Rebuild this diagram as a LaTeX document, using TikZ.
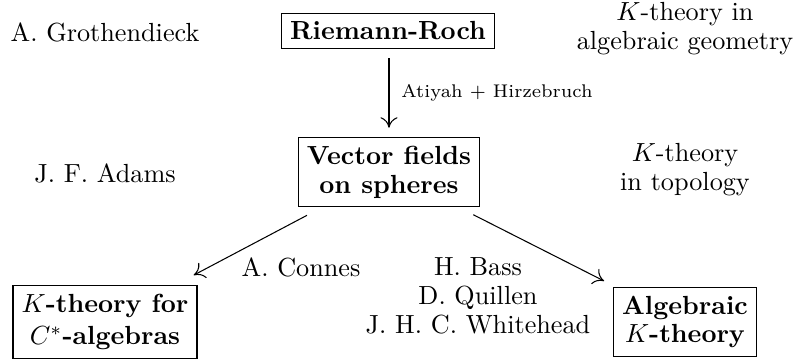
\documentclass[tikz,border=0pt]{standalone}
\usetikzlibrary{arrows.meta}
\begin{document}
\begin{tikzpicture}[x=0.3817pt,y=-0.3817pt,
  box/.style={draw, line width=0.4pt, align=center, font=\fontsize{10}{11}\selectfont\bfseries, inner sep=3.33pt},
  note/.style={align=center, inner sep=0pt, font=\fontsize{10}{11}\selectfont},
  link/.style={-{To[length=4pt,width=6.5pt]}, line width=0.4pt},
  lab/.style={font=\scriptsize}]
\useasboundingbox (0,0) rectangle (796,358);

% main topics
\node[box] (rr) at (388,31)  {Riemann-Roch};
\node[box] (vf) at (389,172) {Vector fields\\on spheres};
\node[box] (kc) at (105,322) {$K$-theory for\\[1.5pt]$C^*$-algebras};
\node[box] (ak) at (685,322) {Algebraic\\$K$-theory};

% people and fields
\node[note] (gro) at (105,32)  {A. Grothendieck};
\node[note] (ada) at (105,173) {J. F. Adams};
\node[note] (kag) at (685,29)  {$K$-theory in\\algebraic geometry};
\node[note] (kto) at (685,170) {$K$-theory\\in topology};
\node[note] (con) at (301,267) {A. Connes};
\node[note] (bqw) at (478,296) {H. Bass\\D. Quillen\\J. H. C. Whitehead};

% arrows
\draw[link, shorten <=3.4pt, shorten >=3.4pt] (rr.south -| vf.north) -- node[lab, right, inner sep=4.5pt] (ah) {Atiyah + Hirzebruch} (vf.north);
\draw[link, shorten <=6.5pt, shorten >=7.7pt] (vf) -- (kc);
\draw[link, shorten <=6.2pt, shorten >=4.7pt] (vf) -- (ak);
\end{tikzpicture}
\end{document}
